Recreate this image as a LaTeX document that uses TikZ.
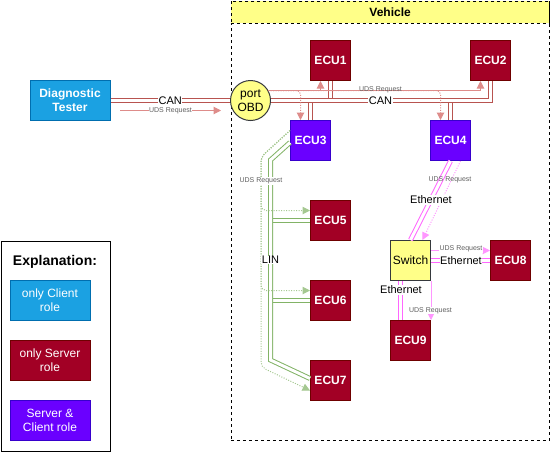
\documentclass[tikz,border=0pt]{standalone}
\usepackage{fontspec}
\setmainfont{Liberation Sans}
\usetikzlibrary{arrows.meta}
\definecolor{testerF}{HTML}{1BA1E2}
\definecolor{testerS}{HTML}{006EAF}
\definecolor{ecuF}{HTML}{A20025}
\definecolor{ecuS}{HTML}{6F0000}
\definecolor{purpF}{HTML}{6A00FF}
\definecolor{purpS}{HTML}{3700CC}
\definecolor{yelF}{HTML}{FFFF88}
\definecolor{yelS}{HTML}{36393D}
\definecolor{canC}{HTML}{B85450}
\definecolor{linC}{HTML}{82B366}
\definecolor{ethC}{HTML}{FF66FF}
\definecolor{udsR}{RGB}{222,140,138}
\definecolor{udsG}{RGB}{165,200,145}
\definecolor{udsM}{RGB}{255,150,255}
\definecolor{lblG}{RGB}{95,95,95}
\begin{document}
\begin{tikzpicture}[x=1pt,y=-1pt,
  box/.style={line width=1pt, minimum width=40pt, minimum height=40pt, inner sep=0pt, align=center},
  ecu/.style={box, draw=ecuS, fill=ecuF, text=white, font=\fontsize{12}{14.4}\selectfont\bfseries},
  ecup/.style={box, draw=purpS, fill=purpF, text=white, font=\fontsize{12}{14.4}\selectfont\bfseries},
  legbox/.style={line width=1pt, minimum width=80pt, minimum height=40pt, inner sep=0pt, align=center, text=white, font=\fontsize{12}{14.4}\selectfont},
  can/.style={draw=canC, line width=1pt, double=white, double distance=3pt},
  lin/.style={draw=linC, line width=1pt, double=white, double distance=3pt},
  eth/.style={draw=ethC, line width=1pt, double=white, double distance=3pt},
  tip/.style={-{Triangle[length=7.5pt,width=7.5pt]}},
  udsr/.style={draw=udsR, line width=1pt, tip},
  udsg/.style={draw=udsG, line width=1pt, tip, dash pattern=on 1pt off 1.5pt, rounded corners=5pt},
  udsm/.style={draw=udsM, line width=1pt, tip},
  lbl/.style={fill=white, inner sep=0.5pt, font=\fontsize{11}{13}\selectfont, text=black},
  slbl/.style={fill=white, inner sep=0.5pt, font=\fontsize{7}{8}\selectfont, text=lblG}
]
\useasboundingbox (0,0) rectangle (551,451);

% Vehicle container
\node[draw=black, line width=0.8pt, dashed, minimum width=318.5pt, minimum height=439.5pt, anchor=north west, inner sep=0pt] (vehicle) at (230.5,0.5) {};
\node[draw=black, fill=yelF, line width=0.8pt, dashed, minimum width=318.5pt, minimum height=22.5pt, anchor=north west, inner sep=0pt, font=\fontsize{12}{14.4}\selectfont\bfseries] (vhead) at (230.5,0.5) {Vehicle};

% Legend
\node[draw=black, line width=1pt, minimum width=109.5pt, minimum height=210pt, anchor=north west, inner sep=0pt] (legend) at (0.5,240.5) {};
\node[font=\fontsize{14}{16}\selectfont\bfseries] (legtitle) at (55,262) {Explanation:};
\node[legbox, draw=testerS, fill=testerF] (lclient) at (50,300.5) {only Client\\role};
\node[legbox, draw=ecuS, fill=ecuF] (lserver) at (50,360.5) {only Server\\role};
\node[legbox, draw=purpS, fill=purpF] (lboth) at (50,420.5) {Server \&\\Client role};

% Main nodes
\node[box, minimum width=80pt, draw=testerS, fill=testerF, text=white, font=\fontsize{12}{14.4}\selectfont\bfseries] (tester) at (70,100.5) {Diagnostic\\Tester};
\node[circle, line width=1pt, draw=yelS, fill=yelF, minimum size=40pt, inner sep=0pt, align=center, font=\fontsize{12}{13.5}\selectfont] (obd) at (250.5,100.5) {port\\OBD};
\node[ecu] (ecu1) at (330.5,60.5) {ECU1};
\node[ecu] (ecu2) at (490.5,60.5) {ECU2};
\node[ecup] (ecu3) at (310.5,140.5) {ECU3};
\node[ecup] (ecu4) at (450.5,140.5) {ECU4};
\node[ecu] (ecu5) at (330.5,220.5) {ECU5};
\node[ecu] (ecu6) at (330.5,300.5) {ECU6};
\node[ecu] (ecu7) at (330.5,380.5) {ECU7};
\node[ecu] (ecu8) at (510.5,260.5) {ECU8};
\node[ecu] (ecu9) at (410.5,340.5) {ECU9};
\node[box, draw=yelS, fill=yelF, font=\fontsize{12}{14.4}\selectfont] (switch) at (410.5,260.5) {Switch};

% helper coordinates
\coordinate (obdU) at (268,90.5);
\coordinate (bus1) at (330.5,100.5);
\coordinate (bus3) at (310.5,100.5);
\coordinate (bus4) at (450.5,100.5);
\coordinate (bus2) at (490.5,100.5);
\coordinate (u1) at (320.5,90.5);
\coordinate (u2) at (480.5,90.5);
\coordinate (u3) at (300.5,90.5);
\coordinate (u4) at (440.5,90.5);
\coordinate (linTop) at (270.5,160);
\coordinate (linBot) at (270.5,360);
\coordinate (lin5) at (270.5,220.5);
\coordinate (lin6) at (270.5,300.5);
\coordinate (gTop) at (261,157);
\coordinate (g5) at (261,210.5);
\coordinate (g6) at (261,290.5);
\coordinate (g7) at (261,367);

% Tester - OBD
\draw[can] (tester.east) -- (obd.west) node[lbl, midway] {CAN};
\coordinate (tU1) at (120,110.5);
\coordinate (tU2) at (221,110.5);
\draw[udsr] (tU1) -- (tU2) node[slbl, midway] {UDS Request};

% CAN bus
\draw[can] (ecu1.south) -- (bus1);
\draw[can] (bus3) -- (ecu3.north);
\draw[can] (bus4) -- (ecu4.north);
\draw[can] (obd.east) -- (bus2) -- (ecu2.south);
\node[lbl] (canlbl) at (380.5,100.5) {CAN};

% UDS over CAN
\draw[udsr] (obdU) -- (u2) -- ([xshift=-10pt]ecu2.south);
\draw[udsr] (u1) -- ([xshift=-10pt]ecu1.south);
\draw[udsr, dash pattern=on 1pt off 1.5pt, rounded corners=4pt] (obdU) -- (u3) -- ([xshift=-10pt]ecu3.north);
\draw[udsr, dash pattern=on 1pt off 1.5pt, rounded corners=4pt] (obdU) -- (u4) -- ([xshift=-10pt]ecu4.north);
\node[slbl, fill=none] (udscan) at (380.5,90) {UDS Request};

% LIN
\draw[lin] (lin5) -- (ecu5.west);
\draw[lin] (lin6) -- (ecu6.west);
\draw[lin] ([yshift=-2pt]ecu3.west) -- (linTop) -- (linBot) -- ([yshift=2pt]ecu7.west);
\draw[udsg] ([yshift=10pt]ecu3.west) -- (gTop) -- (g5) -- ([yshift=10pt]ecu5.west);
\draw[udsg] ([yshift=10pt]ecu3.west) -- (gTop) -- (g6) -- ([yshift=10pt]ecu6.west);
\draw[udsg] ([yshift=10pt]ecu3.west) -- (gTop) -- (g7) -- ([yshift=-10pt]ecu7.west);
\node[slbl] (udslin) at (261,181) {UDS Request};
\node[lbl] (linlbl) at (270.5,260) {LIN};

% Ethernet
\draw[eth] (ecu4.south) -- (switch.north);
\draw[udsm, dash pattern=on 1pt off 1.5pt] ([xshift=10pt]ecu4.south) -- ([xshift=12pt]switch.north);
\node[slbl, fill=none] (udse1) at (450,180) {UDS Request};
\node[lbl] (eth1) at (431,200) {Ethernet};

\draw[eth] (switch.east) -- (ecu8.west);
\draw[udsm] ([yshift=10pt]switch.east) -- ([yshift=10pt]ecu8.west);
\node[slbl] (udse2) at (461,249) {UDS Request};
\node[lbl] (eth2) at (461,260.5) {Ethernet};

\draw[eth] ([xshift=-10pt]switch.south) -- ([xshift=-10pt]ecu9.north);
\draw[udsm] (switch.south east) -- (ecu9.north east);
\node[lbl] (eth3) at (401,290) {Ethernet};
\node[slbl] (udse3) at (430.5,310.5) {UDS Request};
\end{tikzpicture}
\end{document}
